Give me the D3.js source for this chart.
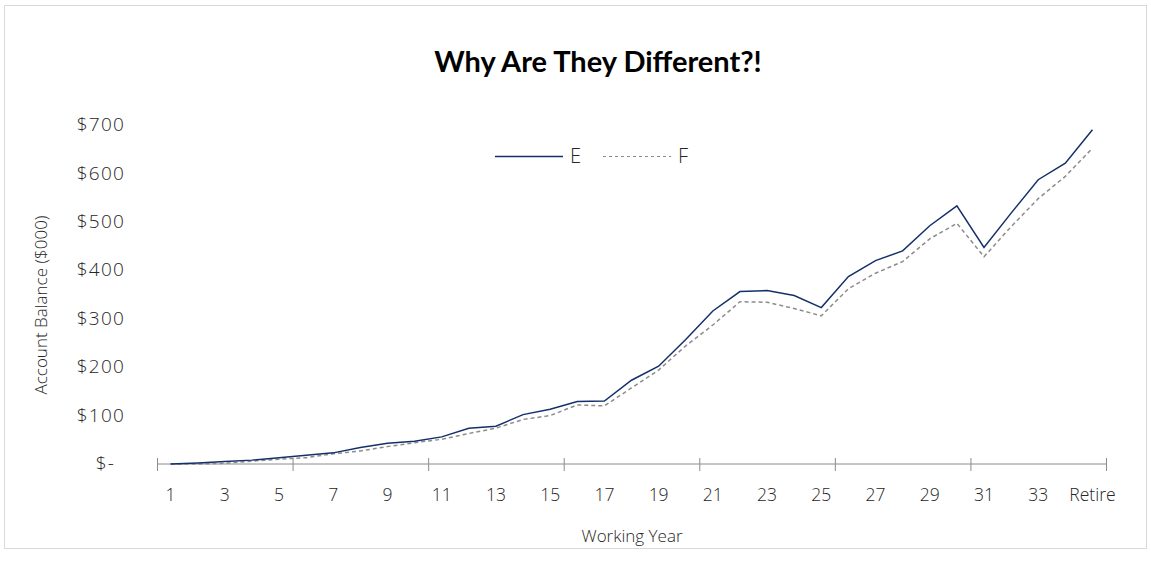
<!DOCTYPE html>
<html>
<head>
<meta charset="utf-8">
<script src="https://cdn.jsdelivr.net/npm/d3@7"></script>
<style>
  html, body { margin: 0; padding: 0; background: #fff; }
  svg { display: block; }
  .lbl { font-family: "Open Sans", Lato, sans-serif; font-weight: 300; fill: #262626; }
</style>
</head>
<body>
<svg id="chart" width="1151" height="562"></svg>
<script>
// Working years on the horizontal axis
const years = ["1","2","3","4","5","6","7","8","9","10","11","12","13","14","15","16","17",
  "18","19","20","21","22","23","24","25","26","27","28","29","30","31","32","33","34","Retire"];

// Account balances in thousands of dollars
const seriesE = [0, 2, 5, 8, 13, 18, 23, 34, 43, 47, 56, 74, 78, 102, 113, 129, 130, 173, 202, 257,
  316, 356, 358, 348, 323, 387, 420, 440, 492, 533, 447, 518, 587, 621, 690];
const seriesF = [0, 0, 1.5, 6, 10, 13, 21, 27, 36, 44, 51, 63, 74, 92, 100, 122, 120, 157, 194, 244,
  287, 335, 334, 321, 306, 362, 394, 418, 465, 497, 428, 490, 548, 594, 652];

const yTicks = [0, 100, 200, 300, 400, 500, 600, 700];
const xLabelEvery = 2;   // label every other year
const xTickEvery = 5;    // tick mark every five years

const svg = d3.select("#chart");

// Chart frame
svg.append("rect")
  .attr("x", 4.5).attr("y", 5.5)
  .attr("width", 1142).attr("height", 543)
  .attr("fill", "#fff").attr("stroke", "#d9d9d9").attr("stroke-width", 1);

const x = d3.scaleBand().domain(years).range([157, 1106]).paddingInner(0).paddingOuter(0);
const cx = d => x(d) + x.bandwidth() / 2;
const y = d3.scaleLinear().domain([0, 700]).range([464, 125]);

// Title
svg.append("text")
  .attr("x", 598).attr("y", 72)
  .attr("text-anchor", "middle")
  .attr("font-family", "Lato, 'Open Sans', sans-serif")
  .attr("font-weight", 700)
  .attr("font-size", 29)
  .attr("fill", "#000")
  .text("Why Are They Different?!");

// Y axis labels (no axis line)
const yAxis = d3.axisLeft(y).tickValues(yTicks).tickSize(0).tickPadding(0)
  .tickFormat(d => d === 0 ? "$-" : "$" + d);
const gy = svg.append("g").attr("transform", "translate(125,0)").call(yAxis);
gy.select(".domain").remove();
gy.selectAll("text")
  .attr("dy", "0.3em")
  .attr("x", d => d === 0 ? -10 : 0)
  .attr("font-size", 19)
  .style("font-family", "'Open Sans', Lato, sans-serif")
  .style("font-weight", 300)
  .style("letter-spacing", "1.2px")
  .attr("fill", "#262626");

// X axis line with cross tick marks at every fifth category boundary
const boundaryIdx = d3.range(0, years.length + 1, xTickEvery);
const bx = i => i < years.length ? x(years[i]) : x.range()[1];
const gx = svg.append("g");
gx.append("line")
  .attr("x1", x.range()[0]).attr("x2", x.range()[1])
  .attr("y1", y(0)).attr("y2", y(0))
  .attr("stroke", "#8c8c8c").attr("stroke-width", 1);
gx.selectAll("line.tick").data(boundaryIdx).join("line")
  .attr("class", "tick")
  .attr("x1", i => bx(i) + 0.5).attr("x2", i => bx(i) + 0.5)
  .attr("y1", y(0) - 6).attr("y2", y(0) + 7)
  .attr("stroke", "#8c8c8c").attr("stroke-width", 1);

const xAxis = d3.axisBottom(x)
  .tickValues(years.filter((d, i) => i % xLabelEvery === 0))
  .tickSize(0).tickPadding(0);
const gxl = svg.append("g").attr("transform", `translate(0,${y(0) + 31})`).call(xAxis);
gxl.select(".domain").remove();
gxl.selectAll("text")
  .attr("dy", "0.32em")
  .attr("font-size", 17.5)
  .style("font-family", "'Open Sans', Lato, sans-serif")
  .style("font-weight", 300)
  .attr("fill", "#262626");

// Axis titles
svg.append("text")
  .attr("class", "lbl")
  .attr("x", 632).attr("y", 542)
  .attr("text-anchor", "middle")
  .attr("font-size", 17)
  .text("Working Year");

svg.append("text")
  .attr("class", "lbl")
  .attr("transform", "translate(47,305) rotate(-90)")
  .attr("text-anchor", "middle")
  .attr("font-size", 17)
  .text("Account Balance ($000)");

// Lines
const line = d3.line().x((d, i) => cx(years[i])).y(d => y(d));

svg.append("path")
  .datum(seriesF)
  .attr("fill", "none")
  .attr("stroke", "#8c8c8c")
  .attr("stroke-width", 1.5)
  .attr("stroke-dasharray", "4,3")
  .attr("d", line);

svg.append("path")
  .datum(seriesE)
  .attr("fill", "none")
  .attr("stroke", "#14306a")
  .attr("stroke-width", 1.5)
  .attr("d", line);

// Legend
const legend = svg.append("g");
legend.append("line")
  .attr("x1", 495).attr("x2", 563).attr("y1", 156.5).attr("y2", 156.5)
  .attr("stroke", "#14306a").attr("stroke-width", 1.5);
legend.append("text").attr("class", "lbl")
  .attr("x", 570).attr("y", 156).attr("dy", "0.36em")
  .attr("font-size", 20).text("E");
legend.append("line")
  .attr("x1", 603).attr("x2", 671).attr("y1", 156.5).attr("y2", 156.5)
  .attr("stroke", "#8c8c8c").attr("stroke-width", 1.2).attr("stroke-dasharray", "3,3");
legend.append("text").attr("class", "lbl")
  .attr("x", 678).attr("y", 156).attr("dy", "0.36em")
  .attr("font-size", 20).text("F");
</script>
</body>
</html>
